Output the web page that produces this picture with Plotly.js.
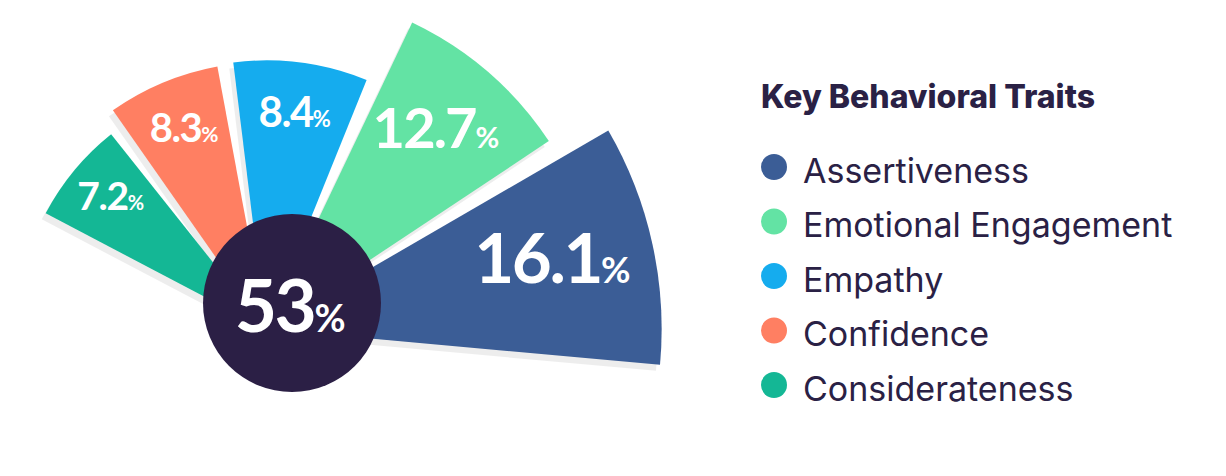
<!DOCTYPE html>
<html>
<head>
<meta charset="utf-8">
<script src="https://cdn.plot.ly/plotly-3.0.1.min.js"></script>
<style>
  html, body { margin: 0; padding: 0; background: #ffffff; overflow: hidden; }
  #wrap { position: relative; width: 1226px; height: 476px; overflow: hidden; }
  /* the fan is wider than the page, so the plot is shifted up-left */
  #chart { position: absolute; left: -100px; top: -80px; }
  /* the numbers in the picture are set tight */
  #chart .textpoint text, #chart .annotation[data-index="0"] text { letter-spacing: -0.035em; }
</style>
</head>
<body>
<div id="wrap"><div id="chart"></div></div>
<script>
var traits = ["Assertiveness", "Emotional Engagement", "Empathy", "Confidence", "Considerateness"];
var shares = [16.1, 12.7, 8.4, 8.3, 7.2];

// styling
var colors = ["#3b5d96", "#63e3a4", "#15acee", "#ff7f62", "#14b795"];
var sliceWidths = [35.3, 30.9, 29, 24.5, 23.8];   // degrees
var labelSizes = [69, 56, 42, 40, 39];
var gapDeg = 3.5;
var startDeg = -5.2;

var offX = 100, offY = 80;
var figW = 1226 + offX, figH = 476 + offY;
var pxPerPoint = 16.5;       // radial scale
var zeroPx = 130;            // radius where 0% sits
var fanCx = 266 + offX, fanCy = 329 + offY;

var dark = "#2a2145";
var numFont = "Lato, 'Open Sans', sans-serif";
var txtFont = "Inter, 'Open Sans', sans-serif";

var thetas = [];
var acc = startDeg;
for (var i = 0; i < shares.length; i++) {
    thetas.push(acc + sliceWidths[i] / 2);
    acc += sliceWidths[i] + gapDeg;
}

var rMin = -zeroPx / pxPerPoint;
var rMax = Math.max.apply(null, shares) + 0.1;
var radius = (rMax - rMin) * pxPerPoint;
var sector = [-5.5, 153];
var bx0 = Math.cos(sector[1] * Math.PI / 180);
var by0 = Math.sin(sector[0] * Math.PI / 180);

function fanDomain(dx, dy) {
    var cx = fanCx + dx, cy = fanCy + dy;
    return {
        x: [(cx + radius * bx0) / figW, (cx + radius) / figW],
        y: [1 - (cy - radius * by0) / figH, 1 - (cy - radius) / figH]
    };
}

var total = shares.reduce(function(a, b) { return a + b; }, 0);
var barR = shares.map(function(v) { return v - rMin; });

var data = [{
    // soft shadow under the slices
    type: "barpolar",
    subplot: "polar",
    r: barR,
    base: rMin,
    theta: thetas,
    width: sliceWidths,
    marker: { color: "rgba(0,0,0,0.07)", line: { width: 0 } },
    hoverinfo: "skip",
    showlegend: false
}, {
    type: "barpolar",
    subplot: "polar2",
    r: barR,
    base: rMin,
    theta: thetas,
    width: sliceWidths,
    marker: { color: colors, line: { width: 0 } },
    hoverinfo: "skip",
    showlegend: false
}, {
    type: "scatterpolar",
    subplot: "polar2",
    mode: "text",
    r: shares.map(function(v) { return v * 0.61; }),
    theta: thetas,
    text: shares.map(function(v, i) {
        return v.toFixed(1) + "<span style='font-size:" + Math.round(labelSizes[i] * 0.52) + "px'>%</span>";
    }),
    textposition: "middle center",
    textfont: { family: numFont, size: labelSizes, color: "#ffffff", weight: 700 },
    hoverinfo: "skip",
    showlegend: false
}];

var shapes = [{
    type: "circle", xref: "paper", yref: "paper",
    xsizemode: "pixel", ysizemode: "pixel",
    xanchor: (292 + offX) / figW, yanchor: 1 - (303 + offY) / figH,
    x0: -89, x1: 89, y0: -89, y1: 89,
    fillcolor: "#2b1f45", line: { width: 0 }
}];

var annotations = [{
    xref: "paper", yref: "paper",
    x: (289 + offX) / figW, y: 1 - (304 + offY) / figH,
    xanchor: "center", yanchor: "middle",
    text: Math.round(total) + "<span style='font-size:38px'>%</span>",
    showarrow: false,
    font: { family: numFont, size: 73, color: "#ffffff", weight: 700 }
}, {
    xref: "paper", yref: "paper",
    x: (759 + offX) / figW, y: 1 - (96 + offY) / figH,
    xanchor: "left", yanchor: "middle",
    text: "Key Behavioral Traits",
    showarrow: false,
    font: { family: txtFont, size: 32, color: dark, weight: 800 }
}];

var legY0 = 167, legStep = 54.5;
for (var j = 0; j < traits.length; j++) {
    var ly = legY0 + j * legStep + offY;
    shapes.push({
        type: "circle", xref: "paper", yref: "paper",
        xsizemode: "pixel", ysizemode: "pixel",
        xanchor: (774 + offX) / figW, yanchor: 1 - ly / figH,
        x0: -13, x1: 13, y0: -13, y1: 13,
        fillcolor: colors[j], line: { width: 0 }
    });
    annotations.push({
        xref: "paper", yref: "paper",
        x: (801 + offX) / figW, y: 1 - (ly + 3) / figH,
        xanchor: "left", yanchor: "middle",
        text: traits[j],
        showarrow: false,
        font: { family: txtFont, size: 34, color: dark }
    });
}

var hiddenAngular = {
    visible: false, showgrid: false, showline: false, showticklabels: false, ticks: "",
    direction: "counterclockwise", rotation: 0, thetaunit: "degrees"
};
var hiddenRadial = {
    visible: false, showgrid: false, showline: false, showticklabels: false, ticks: "",
    range: [rMin, rMax]
};

var layout = {
    width: figW,
    height: figH,
    margin: { l: 0, r: 0, t: 0, b: 0, pad: 0 },
    paper_bgcolor: "#ffffff",
    showlegend: false,
    polar: {
        domain: fanDomain(-4, 6),
        sector: sector,
        bgcolor: "rgba(0,0,0,0)",
        angularaxis: hiddenAngular,
        radialaxis: hiddenRadial
    },
    polar2: {
        domain: fanDomain(0, 0),
        sector: sector,
        bgcolor: "rgba(0,0,0,0)",
        angularaxis: hiddenAngular,
        radialaxis: hiddenRadial
    },
    shapes: shapes,
    annotations: annotations
};

Plotly.newPlot("chart", data, layout, { displayModeBar: false, staticPlot: true });
</script>
</body>
</html>
